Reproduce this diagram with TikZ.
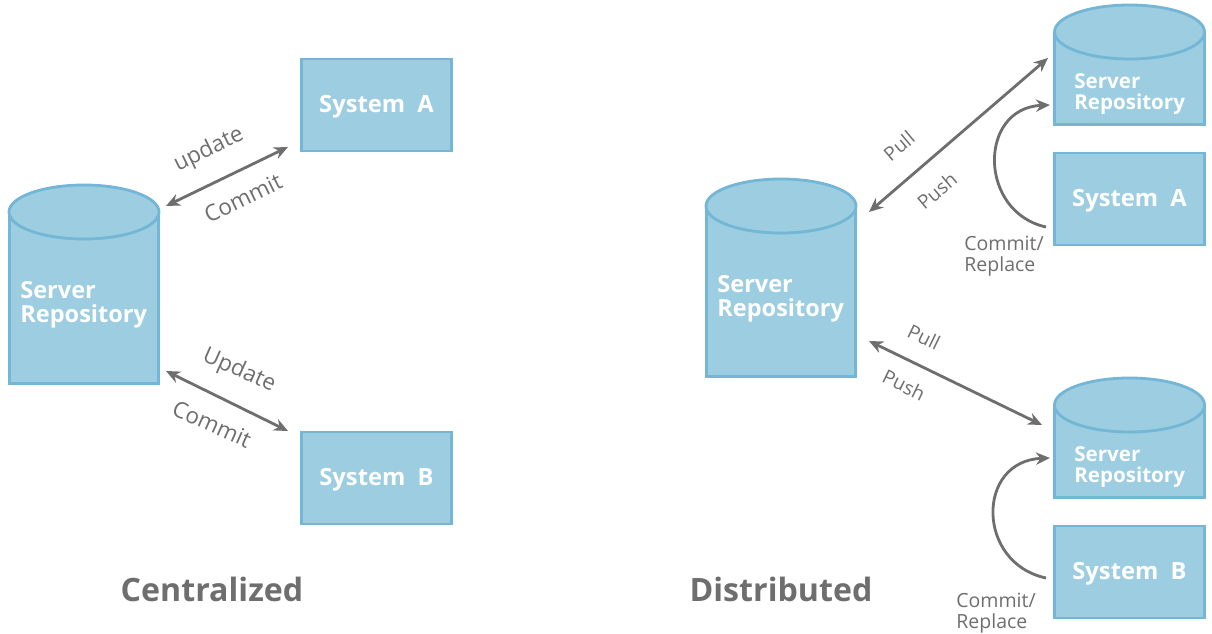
\documentclass[tikz,border=0pt]{standalone}
\usepackage{fontspec}
\setmainfont{Open Sans}
\usetikzlibrary{arrows.meta}
\definecolor{boxfill}{HTML}{9CCDE0}
\definecolor{boxline}{HTML}{74B6D5}
\definecolor{flowgray}{HTML}{6E6E6E}
\tikzset{
    sysbox/.style={draw=boxline, fill=boxfill, line width=1.6pt, minimum width=2.99cm, minimum height=1.84cm, inner sep=0pt},
    repobox/.style={draw=boxline, fill=boxfill, line width=1.6pt, minimum width=2.99cm, inner sep=0pt, anchor=north},
    repotop/.style={draw=boxline, fill=boxfill, line width=1.6pt},
    flow/.style={draw=flowgray, line width=1.6pt, {Stealth[length=8pt,width=7pt]}-{Stealth[length=8pt,width=7pt]}},
    flowone/.style={draw=flowgray, line width=1.6pt, -{Stealth[length=8pt,width=7pt]}},
    tag/.style={text=flowgray, font=\fontsize{12.8}{14}\selectfont, inner sep=0pt},
    pulltag/.style={text=flowgray, font=\fontsize{11}{12}\selectfont, inner sep=0pt},
    smalltag/.style={text=flowgray, font=\fontsize{11.1}{11.6}\selectfont, inner sep=0pt, align=left, anchor=west},
    title/.style={text=flowgray, font=\fontsize{18.3}{20}\selectfont\bfseries, inner sep=0pt},
    repotext/.style={anchor=west, align=left, inner sep=0pt, text=white, font=\fontsize{13.4}{13.6}\selectfont\bfseries},
    repotextsm/.style={anchor=west, align=left, inner sep=0pt, text=white, font=\fontsize{11.7}{11.6}\selectfont\bfseries},
}
\begin{document}
\begin{tikzpicture}[x=0.02cm, y=-0.02cm]
    \useasboundingbox (0,0) rectangle (1212,634);

    % system boxes
    \foreach \x/\y/\name/\sys in {376.5/105/sysA/A, 376.5/478/sysB/B, 1129.5/199/sysRA/A, 1129.5/572/sysRB/B} {
        \node[sysbox, text=white, font=\fontsize{13.5}{14}\selectfont\bfseries] (\name) at (\x,\y) {\raisebox{-1.1pt}[\height][\depth]{System~~\sys}};
    }

    % repositories: x, top of body, body height, name
    \foreach \x/\y/\h/\name in {84/212/170/srvC, 781/206/169/srvD, 1129.5/32/91/srvA, 1129.5/405/91/srvB} {
        \node[repobox, minimum height=\h*0.02cm] (\name) at (\x,\y) {};
        \draw[repotop] (\name.north) ellipse (75 and 27);
    }
    \node[repotext] (txtC) at (20,305) {Server\\Repository};
    \node[repotext] (txtD) at (717,299) {Server\\Repository};
    \node[repotextsm] (txtA) at (1074,94) {Server\\Repository};
    \node[repotextsm] (txtB) at (1074,467) {Server\\Repository};

    % free arrow ends
    \coordinate (c1) at (166,206);
    \coordinate (c2) at (288,147);
    \coordinate (c3) at (166,371);
    \coordinate (c4) at (288,431);
    \coordinate (d1) at (869,212);
    \coordinate (d2) at (1048,58);
    \coordinate (d3) at (869,341);
    \coordinate (d4) at (1042,425);
    \coordinate (e1) at (1046,227);
    \coordinate (e2) at (1050,105);
    \coordinate (f1) at (1046,578);
    \coordinate (f2) at (1050,458);

    \draw[flow] (c1)--(c2);
    \draw[flow] (c3)--(c4);
    \draw[flow] (d1)--(d2);
    \draw[flow] (d3)--(d4);
    \draw[flowone] (e1) .. controls (978,212) and (978,108) .. (e2);
    \draw[flowone] (f1) .. controls (976,563) and (976,461) .. (f2);

    % labels on the arrows
    \node[tag, rotate=26] (lupdate) at (209,150) {update};
    \node[tag, rotate=26] (lcommitA) at (243,198) {Commit};
    \node[tag, rotate=-24] (lupdateB) at (239,371) {Update};
    \node[tag, rotate=-24] (lcommitB) at (212,424) {Commit};
    \node[pulltag, rotate=40] (lpullA) at (899,146) {Pull};
    \node[pulltag, rotate=40] (lpushA) at (937,191) {Push};
    \node[pulltag, rotate=-26] (lpullB) at (924,337) {Pull};
    \node[pulltag, rotate=-26] (lpushB) at (904,385) {Push};
    \node[smalltag] (lrepA) at (964,256) {Commit/\\Replace};
    \node[smalltag] (lrepB) at (956,613) {Commit/\\Replace};

    \node[title] (tcentral) at (212,589) {Centralized};
    \node[title] (tdistrib) at (781,589) {Distributed};
\end{tikzpicture}
\end{document}
